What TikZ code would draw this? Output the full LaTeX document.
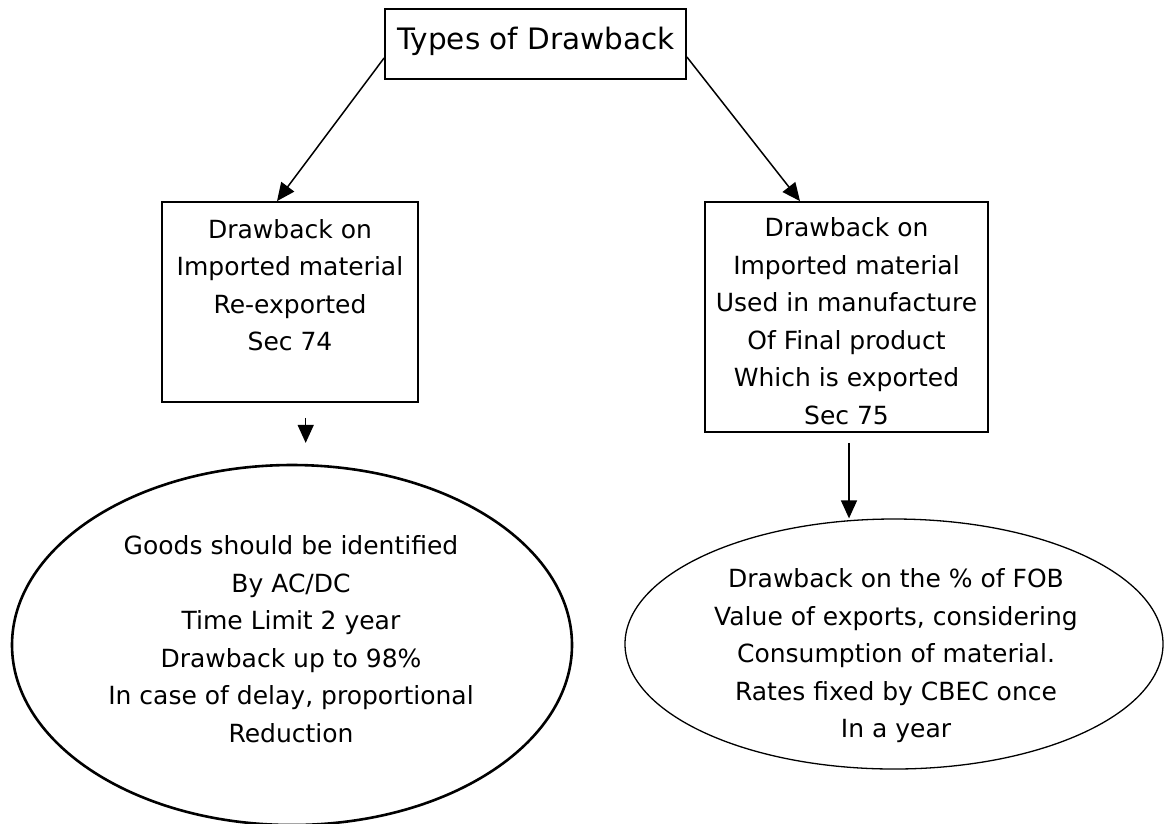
\documentclass[tikz,border=0pt]{standalone}
\usepackage{fontspec}
\setmainfont{DejaVu Sans}
\usetikzlibrary{shapes.geometric,arrows.meta}
\begin{document}
\begin{tikzpicture}[x=1pt,y=-1pt,
  box/.style={draw,line width=1.8pt,rectangle,inner sep=0pt},
  oval/.style={draw,ellipse,inner sep=0pt},
  body/.style={align=center,font=\fontsize{25}{37.5}\selectfont,inner sep=0pt},
  arr/.style={line width=1.5pt,-{Triangle[length=18pt,width=16pt]}}]
\useasboundingbox (0,0) rectangle (1166,823);

% title box
\node[box,minimum width=301pt,minimum height=70pt] (top) at (535.5,44) {};
\node[inner sep=0pt,font=\fontsize{29.5}{34}\selectfont] (toptext) at (536,41) {Types of Drawback};

% section boxes
\node[box,minimum width=256pt,minimum height=200pt] (lb) at (290,302) {};
\node[body] (lbt) at (290,285) {Drawback on\\Imported material\\Re-exported\\Sec 74};

\node[box,minimum width=283pt,minimum height=230pt] (rb) at (846.5,317) {};
\node[body] (rbt) at (846.5,321) {Drawback on\\Imported material\\Used in manufacture\\Of Final product\\Which is exported\\Sec 75};

% detail ovals
\node[oval,line width=2.6pt,minimum width=560pt,minimum height=360pt] (le) at (292,645) {};
\node[body] (let) at (291,639) {Goods should be identified\\By AC/DC\\Time Limit 2 year\\Drawback up to 98\%\\In case of delay, proportional\\Reduction};

\node[oval,line width=1.3pt,minimum width=538pt,minimum height=250pt] (re) at (894,644) {};
\node[body] (ret) at (896,656) {Drawback on the \% of FOB\\Value of exports, considering\\Consumption of material.\\Rates fixed by CBEC once\\In a year};

% connectors
\draw[arr] ([yshift=-14pt]top.west) -- ([xshift=-13pt]lb.north);
\draw[arr] ([yshift=-13pt]top.east) -- ([xshift=-46.5pt]rb.north);
\draw[arr] ([xshift=15.7pt,yshift=-15pt]lb.south) -- ([xshift=15.7pt,yshift=-40pt]lb.south);
\draw[arr] ([xshift=2.5pt,yshift=-10pt]rb.south) -- ([xshift=2.5pt]rb.south |- re.north);
\end{tikzpicture}
\end{document}
